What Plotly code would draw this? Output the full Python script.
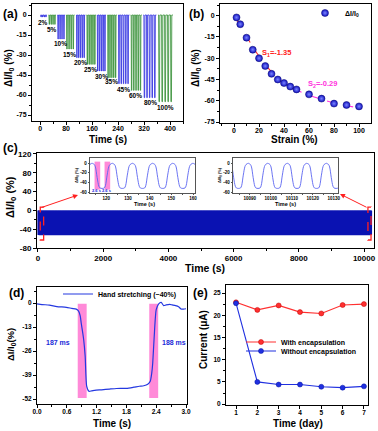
import plotly.graph_objects as go

FONT = "Liberation Sans"
W, H = 378, 431

# ---------------- (a) cyclic response at different strains ----------------
a_labels = ["2%", "5%", "10%", "15%", "20%", "25%", "30%", "35%", "45%", "60%", "80%", "100%"]
a_start = [1, 26, 53, 80, 111, 143, 175, 207, 240, 279, 318, 363]
a_end = [21, 49, 77, 106, 139, 172, 203, 236, 275, 313, 358, 409]
a_depth = [-1.5, -7, -18, -25.5, -32, -37, -42, -47, -51.5, -56.5, -62, -65]
a_label_x = [10, 36, 64, 92, 125, 155, 189, 220, 257, 295, 341, 387]
a_label_y = [-5.5, -11, -21, -29.5, -35.5, -41, -46, -50, -56, -60.5, -65.5, -69.5]
a_cycles = [4, 4, 4, 4, 5, 5, 5, 5, 5, 5, 5, 5]
# one loading cycle: time fraction and fraction of depth
a_cyc_frac = [0.0, 0.2, 0.32, 0.5, 0.62, 1.0]
a_cyc_level = [0.0, 0.0, 1.0, 1.0, 0.0, 0.0]
a_xticks = [0, 80, 160, 240, 320, 400]
a_yticks = [0, -15, -30, -45, -60, -75]

# ---------------- (b) response vs strain ----------------
b_strain = [2, 5, 10, 15, 20, 25, 30, 35, 40, 45, 50, 60, 70, 80, 90, 100]
b_resp = [-1.2, -6, -15.5, -24, -30, -35.5, -41, -45, -47.5, -50, -52, -55.5, -58.5, -62, -63, -64]
b_fit1_x = [2, 5, 10, 15, 20, 25, 30, 35, 40]
b_fit1_y = [-2.5, -7, -14.5, -22, -28.5, -34.5, -39.5, -44, -48]
b_fit2_x = [35, 40, 50, 60, 70, 80, 90, 100]
b_fit2_y = [-45, -48, -52.5, -56, -59, -61.5, -63.5, -65]
b_xticks = [0, 20, 40, 60, 80, 100]

# ---------------- (c) long-term cycling ----------------
# one cycle shape (time after peak, value)
c_cyc_t = [0.0, 0.5, 1.0, 1.5, 2.3, 3.1, 3.6, 4.6, 5.6, 6.1, 6.9, 7.7, 8.2, 8.8]
c_cyc_v = [-0.5, -1.5, -3, -8, -30, -48, -51.5, -52.5, -51.5, -47, -25, -7, -3, -1.2]
c_period = 9.3
c_main_start, c_main_end = 0, 10230
c_inL_start, c_inL_end = 104.2, 165
c_inR_start, c_inR_end = 10070.7, 10135
c_xticks = [0, 2000, 4000, 6000, 8000, 10000]
c_yticks = [120, 80, 40, 0, -40, -80]
c_inL_xticks = [120, 130, 140, 150, 160]
c_inR_xticks = [10090, 10100, 10110, 10120, 10130]
c_in_yticks = [0, -20, -40, -60]
c_pink_x0 = [114.6, 119.2]
c_pink_x1 = [117.2, 121.8]
c_pink_label = ["2.6 s", "2.6 s"]
c_zoom_box_x0 = [70, 10120]
c_zoom_box_x1 = [174, 10215]

# ---------------- (d) response time ----------------
d_t = [0, 0.1, 0.25, 0.4, 0.59, 0.7, 0.79, 0.84, 0.87, 0.89, 0.92, 0.94, 0.97, 1.0, 1.045,
       1.1, 1.16, 1.3, 1.46, 1.6, 1.8, 1.95, 2.06, 2.15, 2.23, 2.28, 2.31, 2.33, 2.36, 2.40,
       2.45, 2.5, 2.55, 2.6, 2.67, 2.72, 2.79, 2.85, 2.9, 2.95, 3.0]
d_v = [-0.4, -0.8, -1.1, -1.9, -2.3, -2.9, -3.3, -4.5, -7, -10.8, -16, -19.9, -28.9, -45, -47.8,
       -47.6, -47.3, -47.0, -46.6, -46.3, -46.2, -45.6, -45.1, -44.8, -44, -42.4, -38, -32.5, -18, -3.6,
       -0.4, 0.4, -1.4, -1.0, -0.7, -1.0, -1.4, -2.0, -3.2, -3.3, -3.1]
d_band_x0 = [0.82, 2.26]
d_band_x1 = [1.0, 2.44]
d_band_label = ["187 ms", "188 ms"]
d_band_label_x = [0.42, 2.76]
d_xticks = [0.0, 0.6, 1.2, 1.8, 2.4, 3.0]
d_yticks = [0, -13, -26, -39, -52]

# ---------------- (e) stability ----------------
e_day = [1, 2, 3, 4, 5, 6, 7]
e_with = [22.9, 21.2, 22.2, 20.7, 20.4, 22.3, 22.5]
e_without = [22.7, 5.0, 4.4, 4.4, 3.9, 3.7, 4.0]
e_yticks = [0, 5, 10, 15, 20, 25]

BLUE_A = "#2a2ae0"
GREEN_A = "#2e8c2e"


def px_x(p):
    return p / W


def px_y(p):
    return 1 - p / H


def tile(cyc_t, cyc_v, period, t0, t1):
    xs, ys = [], []
    k = 0
    while t0 + k * period < t1:
        base = t0 + k * period
        for tt, vv in zip(cyc_t, cyc_v):
            xs.append(base + tt)
            ys.append(vv)
        k += 1
    return xs, ys


fig = go.Figure()

# (a)
for i, lab in enumerate(a_labels):
    P = (a_end[i] - a_start[i]) / a_cycles[i]
    xs, ys = [], []
    for k in range(a_cycles[i]):
        for f, lv in zip(a_cyc_frac, a_cyc_level):
            xs.append(a_start[i] + (k + f) * P)
            ys.append(lv * a_depth[i])
    fig.add_trace(go.Scatter(x=xs, y=ys, mode="lines", xaxis="x", yaxis="y",
                             line=dict(color=BLUE_A if i % 2 == 0 else GREEN_A, width=0.8),
                             showlegend=False))

# (b)
fig.add_trace(go.Scatter(x=b_fit1_x, y=b_fit1_y, mode="lines", xaxis="x2", yaxis="y2",
                         line=dict(color="#ff2a2a", width=1.1, dash="dash", shape="spline"),
                         showlegend=False))
fig.add_trace(go.Scatter(x=b_fit2_x, y=b_fit2_y, mode="lines", xaxis="x2", yaxis="y2",
                         line=dict(color="#ff33dd", width=1.1, dash="dash", shape="spline"),
                         showlegend=False))
fig.add_trace(go.Scatter(x=b_strain, y=b_resp, mode="markers", xaxis="x2", yaxis="y2",
                         marker=dict(color="#1010c0", size=7, line=dict(color="#0a0a70", width=0.5),
                                     gradient=dict(type="radial", color="#7c86ff")),
                         name="ΔI/I<sub>0</sub>", legend="legend", showlegend=True))

# (c) main band
cx, cy = tile(c_cyc_t, c_cyc_v, c_period, c_main_start, c_main_end)
fig.add_trace(go.Scatter(x=cx, y=cy, mode="lines", xaxis="x3", yaxis="y3", fill="tozeroy",
                         fillcolor="#0a12b2", line=dict(color="#0a12b2", width=1.3, simplify=False),
                         showlegend=False))
# insets
lx, ly = tile(c_cyc_t, c_cyc_v, c_period, c_inL_start, c_inL_end)
fig.add_trace(go.Scatter(x=lx, y=ly, mode="lines", xaxis="x4", yaxis="y4",
                         line=dict(color="#5a64f0", width=0.9, shape="spline"), showlegend=False))
rx, ry = tile(c_cyc_t, c_cyc_v, c_period, c_inR_start, c_inR_end)
fig.add_trace(go.Scatter(x=rx, y=ry, mode="lines", xaxis="x5", yaxis="y5",
                         line=dict(color="#5a64f0", width=0.9, shape="spline"), showlegend=False))

# (d)
fig.add_trace(go.Scatter(x=d_t, y=d_v, mode="lines", xaxis="x6", yaxis="y6",
                         line=dict(color="#2438e0", width=1.2, shape="spline", smoothing=0.6),
                         name="Hand stretching (~40%)", legend="legend2", showlegend=True))

# (e)
fig.add_trace(go.Scatter(x=e_day, y=e_with, mode="lines+markers", xaxis="x7", yaxis="y7",
                         line=dict(color="#ff3030", width=1.1),
                         marker=dict(color="#ff3030", size=5, line=dict(color="#c00000", width=0.5)),
                         name="With encapsulation", legend="legend3", showlegend=True))
fig.add_trace(go.Scatter(x=e_day, y=e_without, mode="lines+markers", xaxis="x7", yaxis="y7",
                         line=dict(color="#2030e0", width=1.1),
                         marker=dict(color="#2030e0", size=5, line=dict(color="#0010a0", width=0.5)),
                         name="Without encapsulation", legend="legend4", showlegend=True))


def axis(domain, rng, tickvals=None, fs=7, minor_dtick=None, ticklen=3, lw=1, lc="black", anchor=None, **kw):
    d = dict(domain=domain, range=rng, showline=True, linecolor=lc, linewidth=lw, mirror=True,
             ticks="outside", ticklen=ticklen, tickwidth=lw, tickcolor=lc, showgrid=False,
             zeroline=False, tickfont=dict(size=fs, family=FONT, weight="bold", color="black"),
             anchor=anchor, automargin=False)
    if tickvals is not None:
        d["tickmode"] = "array"
        d["tickvals"] = tickvals
        d["ticktext"] = [("%.1f" % v) if isinstance(v, float) and v != int(v) or kw.get("tickformat") == ".1f"
                         else str(int(v)) for v in tickvals]
    if minor_dtick is not None:
        d["minor"] = dict(ticks="outside", ticklen=max(1, ticklen * 0.6), tickcolor=lc,
                          dtick=minor_dtick, tickwidth=lw, showgrid=False)
    d.update(kw)
    return d


LEG = dict(xanchor="left", yanchor="middle", bgcolor="rgba(0,0,0,0)",
           font=dict(size=7, family=FONT, weight="bold"))

layout = dict(
    width=W, height=H, margin=dict(l=0, r=0, t=0, b=0, pad=0, autoexpand=False),
    paper_bgcolor="white", plot_bgcolor="white",
    font=dict(family=FONT, weight="bold", color="black"),
    xaxis=axis([px_x(32), px_x(183)], [-25, 440], a_xticks, minor_dtick=40, anchor="y",
               ticklabelstandoff=-2),
    yaxis=axis([px_y(121), px_y(4)], [-79.5, 8.25], a_yticks, minor_dtick=7.5, anchor="x"),
    xaxis2=axis([px_x(220), px_x(371)], [-11.2, 109.6], b_xticks, minor_dtick=10, anchor="y2",
                ticklabelstandoff=-2),
    yaxis2=axis([px_y(123), px_y(4)], [-75.7, 8.26], a_yticks, minor_dtick=7.5, anchor="x2"),
    xaxis3=axis([px_x(37), px_x(374)], [-30, 10306], c_xticks, fs=8, minor_dtick=1000, anchor="y3",
                ticklabelstandoff=-1),
    yaxis3=axis([px_y(248), px_y(153)], [-80, 122], c_yticks, fs=8, minor_dtick=20, anchor="x3"),
    xaxis4=axis([px_x(90), px_x(195)], [112.5, 160.9], c_inL_xticks, fs=4.5, ticklen=1.5, lw=0.8,
                lc="#555555", anchor="y4", minor_dtick=5, ticklabelstandoff=-1),
    yaxis4=axis([px_y(193), px_y(158)], [-62, 10.5], c_in_yticks, fs=4.5, ticklen=1.5, lw=0.8,
                lc="#555555", anchor="x4"),
    xaxis5=axis([px_x(233), px_x(338)], [10082, 10132], c_inR_xticks, fs=4.5, ticklen=1.5, lw=0.8,
                lc="#555555", anchor="y5", minor_dtick=5, ticklabelstandoff=-1),
    yaxis5=axis([px_y(193), px_y(158)], [-62, 10.5], c_in_yticks, fs=4.5, ticklen=1.5, lw=0.8,
                lc="#555555", anchor="x5"),
    xaxis6=axis([px_x(37), px_x(187)], [0, 3.02], d_xticks, fs=6.5, minor_dtick=0.3, anchor="y6",
                tickformat=".1f", ticklabelstandoff=-2),
    yaxis6=axis([px_y(404), px_y(287)], [-54.7, 8.7], d_yticks, fs=6.5, minor_dtick=6.5, anchor="x6"),
    xaxis7=axis([px_x(226), px_x(368)], [0.53, 7.19], e_day, fs=6.5, anchor="y7",
                ticklabelstandoff=-2),
    yaxis7=axis([px_y(405), px_y(285)], [-0.2, 26.8], e_yticks, fs=6.5, minor_dtick=2.5, anchor="x7"),
    legend=dict(x=px_x(305), y=px_y(13), **LEG),
    legend2=dict(x=px_x(58), y=px_y(294), **LEG),
    legend3=dict(x=px_x(241), y=px_y(342), **LEG),
    legend4=dict(x=px_x(241), y=px_y(351), **LEG),
)

ann = []


def txt(x, y, s, size, xref="paper", yref="paper", color="black", angle=0, xanchor="center"):
    ann.append(dict(x=x, y=y, xref=xref, yref=yref, text=s, showarrow=False, textangle=angle,
                    font=dict(size=size, family=FONT, weight="bold", color=color),
                    xanchor=xanchor, yanchor="middle"))


YT = "ΔI/I<sub>0</sub> (%)"
# panel letters
txt(px_x(10), px_y(14), "(a)", 12)
txt(px_x(196), px_y(14), "(b)", 12)
txt(px_x(10), px_y(148), "(c)", 12)
txt(px_x(16), px_y(293), "(d)", 12)
txt(px_x(200), px_y(293), "(e)", 12)
# axis titles
txt(px_x(9), px_y(68), YT, 10, angle=-90)
txt(px_x(108), px_y(140), "Time (s)", 10)
txt(px_x(196), px_y(68), YT, 10, angle=-90)
txt(px_x(294), px_y(140), "Strain (%)", 10)
txt(px_x(11), px_y(197), YT, 11, angle=-90)
txt(px_x(205), px_y(268), "Time (s)", 10.5)
txt(px_x(11), px_y(345), "ΔI/I<sub>0</sub>(%)", 9.5, angle=-90)
txt(px_x(112), px_y(423), "Time (s)", 10)
txt(px_x(203), px_y(340), "Current (μA)", 10, angle=-90)
txt(px_x(298), px_y(423), "Time (day)", 10)
# inset titles
txt(px_x(77), px_y(175), YT, 4, angle=-90)
txt(px_x(144), px_y(204), "Time (s)", 5.5)
txt(px_x(220), px_y(175), YT, 4, angle=-90)
txt(px_x(285), px_y(204), "Time (s)", 5.5)
# (a) strain labels
for lab, x, y in zip(a_labels, a_label_x, a_label_y):
    txt(x, y, lab, 6.5, xref="x", yref="y")
# (b) slopes
txt(34, -26.5, "S<sub>1</sub>=-1.35", 7.5, xref="x2", yref="y2", color="#ff2020")
txt(71, -48.5, "S<sub>2</sub>=-0.29", 7.5, xref="x2", yref="y2", color="#ff33dd")
# (c) inset labels
for x0, x1, lab in zip(c_pink_x0, c_pink_x1, c_pink_label):
    txt((x0 + x1) / 2, -56, lab, 4, xref="x4", yref="y4", color="#1020e0")
# (d) labels
for x, lab in zip(d_band_label_x, d_band_label):
    txt(x, -21.3, lab, 7, xref="x6", yref="y6", color="#1a2ad8")

# arrows in (c)
ann.append(dict(x=px_x(78), y=px_y(195), xref="paper", yref="paper", ax=-38, ay=13, axref="pixel",
                ayref="pixel", text="", showarrow=True, arrowhead=2, arrowsize=1, arrowwidth=1,
                arrowcolor="#ff2020"))
ann.append(dict(x=px_x(340), y=px_y(194), xref="paper", yref="paper", ax=28, ay=14, axref="pixel",
                ayref="pixel", text="", showarrow=True, arrowhead=2, arrowsize=1, arrowwidth=1,
                arrowcolor="#ff2020"))

shapes = []
for x0, x1 in zip(c_pink_x0, c_pink_x1):
    shapes.append(dict(type="rect", xref="x4", yref="y4", x0=x0, x1=x1, y0=-55, y1=3,
                       fillcolor="#ff8ad8", line=dict(width=0), layer="below"))
for x0, x1 in zip(d_band_x0, d_band_x1):
    shapes.append(dict(type="rect", xref="x6", yref="y6", x0=x0, x1=x1, y0=-51.5, y1=-0.4,
                       fillcolor="#ff8ad8", line=dict(width=0), layer="below"))
for x0, x1 in zip(c_zoom_box_x0, c_zoom_box_x1):
    shapes.append(dict(type="rect", xref="x3", yref="y3", x0=x0, x1=x1, y0=-63, y1=7,
                       line=dict(color="#ff2020", width=1.3, dash="dash"), layer="above"))

layout["annotations"] = ann
layout["shapes"] = shapes
fig.update_layout(**layout)
fig.write_html("out.html", config={"displayModeBar": False},
               post_script="document.body.style.margin='0';document.body.style.overflow='hidden';")
